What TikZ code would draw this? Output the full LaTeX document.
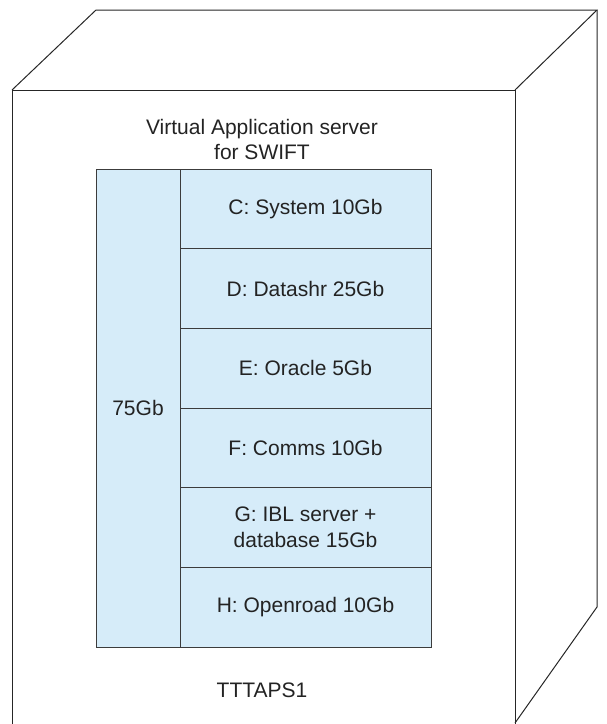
\documentclass[tikz,border=0pt]{standalone}
\usepackage{fontspec}
\setmainfont{Liberation Sans}
\usetikzlibrary{positioning}
\definecolor{diskblue}{RGB}{214,236,249}
\definecolor{edgegray}{RGB}{60,60,60}
\definecolor{inkgray}{RGB}{35,35,35}
\tikzset{
  part/.style={draw=edgegray, fill=diskblue, line width=0.9pt,
    minimum width=251pt, minimum height=79.7pt, inner sep=0pt, outer sep=0pt,
    align=center, text=inkgray, font=\fontsize{21}{26}\selectfont},
  txt/.style={align=center, text=inkgray, font=\fontsize{21}{25}\selectfont}
}
\begin{document}
\begin{tikzpicture}[x=1pt,y=-1pt]
    \useasboundingbox (0,0) rectangle (607,724);

    % the box
    \draw[line width=1pt, black!85] (12,724) -- (12,90) -- (515,90) -- (515,724);
    \draw[line width=1pt, black!85] (12,90) -- (96,10) -- (597,10) -- (515,90);
    \draw[line width=1pt, black!85] (597,10) -- (597,607) -- (515,723);

    \node[txt] (title) at (262,139) {Virtual Application server\\for SWIFT};

    % disk
    \node[part, minimum width=84pt, minimum height=478pt] (disk) at (138,408) {75Gb};
    \node[part, anchor=north west] (c) at (disk.north east) {C: System 10Gb};
    \node[part, below=0pt of c] (d) {D: Datashr 25Gb};
    \node[part, below=0pt of d] (e) {E: Oracle 5Gb};
    \node[part, below=0pt of e] (f) {F: Comms 10Gb};
    \node[part, below=0pt of f] (g) {G: IBL server +\\database 15Gb};
    \node[part, below=0pt of g] (h) {H: Openroad 10Gb};

    \node[txt] (name) at (262,690) {TTTAPS1};
  \end{tikzpicture}
\end{document}
